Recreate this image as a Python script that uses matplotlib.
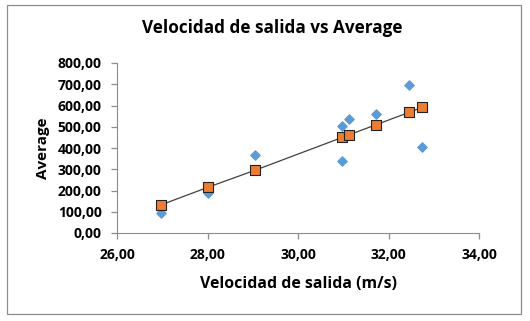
import matplotlib
matplotlib.use('Agg')
import matplotlib.pyplot as plt
from matplotlib.patches import Rectangle
from matplotlib.ticker import FuncFormatter

# datos observados (azul) y predichos (naranja)
velocidad = [26.97, 28.02, 29.06, 30.98, 30.98, 31.13, 31.73, 32.46, 32.75]
average = [95, 187, 367, 339, 503, 535, 560, 696, 406]

vel_pred = [26.97, 28.02, 29.06, 30.98, 31.13, 31.73, 32.46, 32.75]
avg_pred = [132, 216, 296, 450, 462, 510, 568, 592]

x_ticks = [26, 28, 30, 32, 34]
y_ticks = [0, 100, 200, 300, 400, 500, 600, 700, 800]

plt.rcParams['font.family'] = ['Open Sans', 'DejaVu Sans']
plt.rcParams['font.weight'] = 'bold'

fig = plt.figure(figsize=(5.3, 3.21), dpi=100)
# marco del grafico
fig.patches.append(Rectangle((7/530, 1 - 314/321), 514/530, 309/321,
                             transform=fig.transFigure, fill=False,
                             edgecolor='#8c8c8c', linewidth=0.9))

ax = fig.add_axes([117/530, 1 - 233/321, 362/530, 170/321])

ax.plot(vel_pred, avg_pred, color='#404040', linewidth=0.9, zorder=2)
ax.scatter(velocidad, average, marker='D', s=22, color='#5b9bd5', zorder=3)
ax.scatter(vel_pred, avg_pred, marker='s', s=48, color='#ed7d31',
           edgecolors='#222222', linewidths=0.8, zorder=4)

ax.set_xlim(26, 34)
ax.set_ylim(0, 800)
ax.set_xticks(x_ticks)
ax.set_yticks(y_ticks)
fmt = FuncFormatter(lambda v, p: f'{v:.2f}'.replace('.', ','))
ax.xaxis.set_major_formatter(fmt)
ax.yaxis.set_major_formatter(fmt)

for s in ['top', 'right']:
    ax.spines[s].set_visible(False)
for s in ['left', 'bottom']:
    ax.spines[s].set_color('#8c8c8c')
ax.tick_params(colors='#8c8c8c', labelcolor='black', length=4, width=0.9,
               labelsize=10)
ax.tick_params(axis='y', pad=7)
ax.tick_params(axis='x', pad=7)

ax.set_xlabel('Velocidad de salida (m/s)', fontsize=11.4, fontweight='bold')
ax.xaxis.set_label_coords(0.5, -0.25)
ax.set_ylabel('Average', fontsize=11, fontweight='bold')
ax.yaxis.set_label_coords(-0.185, 0.5)
fig.text(272/530, 1 - 33/321, 'Velocidad de salida vs Average', ha='center', va='baseline',
         fontsize=12.3, fontweight='bold')

fig.savefig('out.png', dpi=100)
